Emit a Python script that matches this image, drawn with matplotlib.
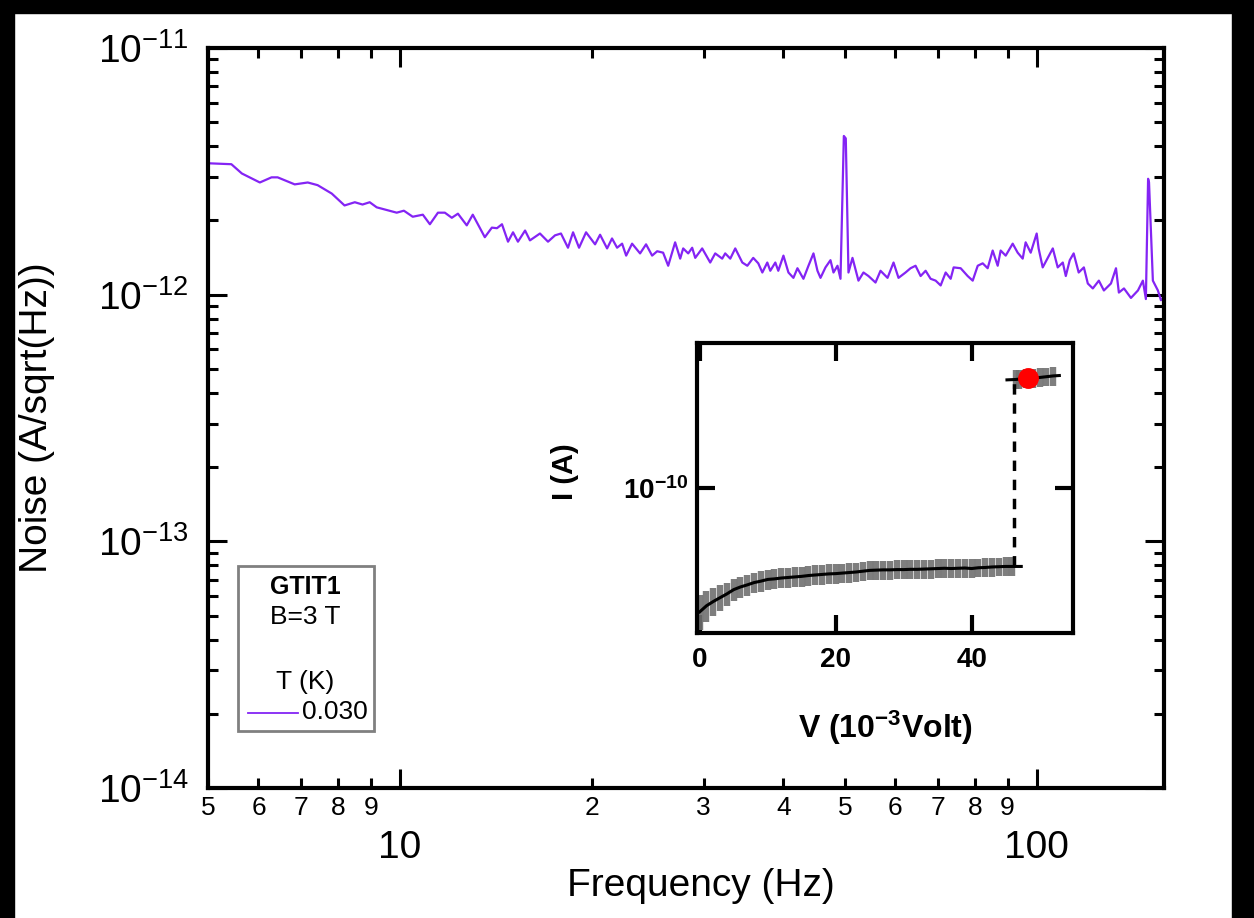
import matplotlib
matplotlib.use("Agg")
import numpy as np
import matplotlib.pyplot as plt
from matplotlib import font_manager
from matplotlib.ticker import LogLocator, NullLocator, NullFormatter, FixedLocator, FixedFormatter
from matplotlib.patches import Rectangle
from matplotlib.lines import Line2D

# noise spectrum: frequency (Hz) and noise (1e-12 A/sqrt(Hz))
freq = [5.0, 5.44, 5.65, 6.03, 6.29, 6.43, 6.84, 7.17, 7.43, 7.82, 8.19, 8.50, 8.74, 8.97, 9.20,
        9.89, 10.15, 10.48, 10.87, 11.15, 11.48, 11.77, 12.07, 12.34, 12.74, 13.02, 13.60, 13.95,
        14.21, 14.47, 14.79, 15.06, 15.33, 15.73, 16.01, 16.60, 17.09, 17.53, 17.91, 18.37, 18.71,
        19.12, 19.61, 20.26, 20.63, 21.16, 21.54, 21.94, 22.34, 22.67, 23.16, 23.84, 24.36, 24.90,
        25.36, 25.91, 26.39, 27.06, 27.56, 27.86, 28.37, 28.78, 29.10, 29.84, 30.72, 31.28, 32.08,
        32.43, 33.03, 33.63, 34.50, 35.13, 35.89, 36.55, 37.09, 37.76, 38.17, 38.87, 39.29, 40.03,
        40.76, 41.50, 42.11, 43.03, 43.82, 44.62, 45.27, 45.77, 46.60, 47.45, 47.97, 48.67, 49.20,
        49.80, 50.15, 50.64, 51.38, 52.50, 53.46, 54.44, 55.84, 56.86, 58.32, 59.60, 60.68, 62.24,
        63.38, 64.54, 65.73, 66.93, 68.15, 69.40, 70.67, 71.96, 73.27, 74.07, 75.97, 77.92, 79.35,
        80.80, 82.27, 83.76, 85.29, 86.85, 87.79, 89.40, 91.69, 93.36, 95.07, 96.09, 97.86, 100.0,
        100.7, 102.2, 104.1, 106.0, 107.9, 109.9, 111.1, 112.7, 114.3, 116.4, 118.6, 120.3, 122.5,
        125.2, 127.5, 130.8, 133.2, 134.6, 137.1, 140.6, 144.2, 146.8, 148.4, 149.6, 150.1, 152.2,
        155.0, 156.7, 157.8]
noise = [3.41, 3.38, 3.10, 2.85, 2.99, 2.99, 2.80, 2.85, 2.78, 2.57, 2.30, 2.37, 2.32, 2.37, 2.26,
         2.15, 2.19, 2.07, 2.11, 1.93, 2.15, 2.15, 2.05, 2.13, 1.91, 2.11, 1.71, 1.87,
         1.86, 1.93, 1.64, 1.79, 1.64, 1.82, 1.66, 1.77, 1.64, 1.74, 1.77, 1.55, 1.79,
         1.55, 1.79, 1.60, 1.75, 1.54, 1.69, 1.55, 1.61, 1.44, 1.61, 1.47, 1.60, 1.44,
         1.50, 1.48, 1.31, 1.63, 1.40, 1.54, 1.47, 1.55, 1.41, 1.54, 1.35, 1.47, 1.40,
         1.47, 1.40, 1.54, 1.35, 1.31, 1.41, 1.34, 1.23, 1.35, 1.25, 1.35, 1.25, 1.44,
         1.23, 1.17, 1.28, 1.16, 1.31, 1.47, 1.25, 1.17, 1.29, 1.38, 1.23, 1.31, 1.16,
         4.40, 4.30, 1.23, 1.41, 1.14, 1.23, 1.19, 1.12, 1.25, 1.17, 1.35, 1.17, 1.23,
         1.28, 1.31, 1.19, 1.25, 1.16, 1.14, 1.09, 1.23, 1.16, 1.29, 1.28, 1.19, 1.14,
         1.31, 1.34, 1.28, 1.51, 1.31, 1.51, 1.44, 1.61, 1.48, 1.40, 1.63, 1.48, 1.77,
         1.54, 1.29, 1.41, 1.54, 1.29, 1.35, 1.19, 1.38, 1.47, 1.23, 1.29, 1.11, 1.06,
         1.14, 1.04, 1.11, 1.28, 1.02, 1.06, 0.97, 1.04, 1.14, 0.96, 2.95, 2.85, 1.14,
         1.04, 0.95, 0.97]

# inset I-V: voltage (1e-3 V), current (1e-11 A), error (1e-11 A)
volt_low = [0, 1, 2, 3, 4, 5, 6, 7, 8, 9, 10, 11, 12, 13, 14, 15, 16, 17, 18, 19, 20, 21, 22, 23,
            24, 25, 26, 27, 28, 29, 30, 31, 32, 33, 34, 35, 36, 37, 38, 39, 40, 41, 42, 43, 44,
            45, 46, 47.3]
curr_low = [4.57, 4.75, 4.88, 5.00, 5.12, 5.26, 5.35, 5.42, 5.50, 5.55, 5.61, 5.63, 5.66, 5.68,
            5.70, 5.72, 5.75, 5.77, 5.79, 5.81, 5.82, 5.84, 5.86, 5.88, 5.91, 5.94, 5.95, 5.96,
            5.96, 5.97, 5.97, 5.98, 5.98, 5.99, 6.00, 6.01, 6.02, 6.01, 6.02, 6.03, 6.01, 6.04,
            6.05, 6.07, 6.08, 6.09, 6.09, 6.09]
err_low = [0.50, 0.45, 0.42, 0.40, 0.38, 0.36, 0.36, 0.36, 0.36, 0.36, 0.36, 0.36, 0.36, 0.36,
           0.36, 0.36, 0.36, 0.36, 0.36, 0.36, 0.36, 0.36, 0.36, 0.36, 0.36, 0.36, 0.36, 0.36,
           0.36, 0.36, 0.36, 0.36, 0.36, 0.36, 0.36, 0.36, 0.36, 0.36, 0.36, 0.36, 0.36, 0.36,
           0.36, 0.36, 0.36, 0.36, 0.36, 0.0]
volt_high = [45.2, 46.5, 47, 48, 49, 50, 51, 52, 52.9]
curr_high = [19.8, 19.85, 19.9, 20.0, 20.05, 20.1, 20.2, 20.3, 20.35]
err_high = [0.0, 1.2, 1.2, 1.2, 1.2, 1.2, 1.2, 1.2, 0.0]
jump_v = [46.2, 46.2]
jump_i = [6.09, 19.8]
point_v = [48.3]
point_i = [20.0]

xmajor = [10, 100]
xminor = [5, 6, 7, 8, 9, 20, 30, 40, 50, 60, 70, 80, 90]
xminor_labels = ['5', '6', '7', '8', '9', '2', '3', '4', '5', '6', '7', '8', '9']

names = {f.name for f in font_manager.fontManager.ttflist}
narrow = 'Liberation Sans Narrow' if 'Liberation Sans Narrow' in names else 'Liberation Sans'
plt.rcParams['font.family'] = [narrow, 'DejaVu Sans']
plt.rcParams['mathtext.fontset'] = 'custom'
plt.rcParams['mathtext.rm'] = narrow
plt.rcParams['mathtext.it'] = narrow + ':italic'
plt.rcParams['mathtext.bf'] = narrow + ':bold'

fig = plt.figure(figsize=(12.54, 9.18), dpi=100)
ax = fig.add_axes([0.1659, 0.1416, 0.7624, 0.8061])

purple = '#8424F4'
ax.plot(freq, np.array(noise) * 1e-12, color=purple, lw=1.6)
ax.set_xscale('log')
ax.set_yscale('log')
ax.set_xlim(5, 158.5)
ax.set_ylim(1e-14, 1e-11)

for s in ax.spines.values():
    s.set_linewidth(3)

ax.xaxis.set_major_locator(FixedLocator(xmajor))
ax.xaxis.set_major_formatter(FixedFormatter([str(v) for v in xmajor]))
ax.xaxis.set_minor_locator(FixedLocator(xminor))
ax.xaxis.set_minor_formatter(FixedFormatter(xminor_labels))
ax.yaxis.set_major_locator(FixedLocator([1e-14, 1e-13, 1e-12, 1e-11]))
ax.yaxis.set_major_formatter(FixedFormatter(['$10^{-14}$', '$10^{-13}$', '$10^{-12}$', '$10^{-11}$']))
ax.yaxis.set_minor_locator(LogLocator(base=10, subs=range(2, 10)))
ax.yaxis.set_minor_formatter(NullFormatter())

ax.tick_params(which='both', direction='in', top=True, right=True, width=2.2)
ax.tick_params(which='major', length=14)
ax.tick_params(which='minor', length=7)
ax.tick_params(axis='x', which='major', labelsize=28, pad=30)
ax.tick_params(axis='x', which='minor', labelsize=19, pad=6)
ax.tick_params(axis='y', which='major', labelsize=28, pad=14)

ax.set_ylabel('Noise (A/sqrt(Hz))', fontsize=28, family=['Liberation Sans', 'DejaVu Sans'])
ax.yaxis.set_label_coords(-0.160, 0.5)
ax.set_xlabel('Frequency (Hz)', fontsize=28)
ax.xaxis.set_label_coords(0.515, -0.108)

# legend box
ax.add_patch(Rectangle((0.0314, 0.077), 0.1423, 0.223, transform=ax.transAxes,
                       fill=False, edgecolor='#808080', lw=2, zorder=5))
ax.text(0.1015, 0.272, 'GTIT1', transform=ax.transAxes, ha='center', va='center',
        fontsize=18, fontweight='bold')
ax.text(0.1015, 0.231, 'B=3 T', transform=ax.transAxes, ha='center', va='center', fontsize=19)
ax.text(0.1015, 0.143, 'T (K)', transform=ax.transAxes, ha='center', va='center', fontsize=19)
ax.add_line(Line2D([0.0418, 0.0941], [0.101, 0.101], transform=ax.transAxes, color=purple, lw=1.3))
ax.text(0.0983, 0.103, '0.030', transform=ax.transAxes, ha='left', va='center', fontsize=19)

# inset
ins = fig.add_axes([0.5558, 0.3105, 0.2998, 0.3159])
ins.set_yscale('log')
low_i = np.array(curr_low) * 1e-11
high_i = np.array(curr_high) * 1e-11
ins.errorbar(volt_low, low_i, yerr=np.array(err_low) * 1e-11, fmt='none', ecolor='#707070',
             elinewidth=4.6, alpha=0.9)
ins.errorbar(volt_high, high_i, yerr=np.array(err_high) * 1e-11, fmt='none', ecolor='#707070',
             elinewidth=4.6, alpha=0.9)
ins.plot(volt_low, low_i, color='black', lw=2.2)
ins.plot(volt_high, high_i, color='black', lw=2.2)
ins.plot(jump_v, np.array(jump_i) * 1e-11, color='black', lw=2.5, ls=(0, (3, 2.5)))
ins.plot(point_v, np.array(point_i) * 1e-11, 'o', color='red', ms=14, zorder=6)
ins.set_xlim(-0.4, 54.9)
ins.set_ylim(4.0e-11, 2.5e-10)
for s in ins.spines.values():
    s.set_linewidth(3)
ins.xaxis.set_major_locator(FixedLocator([0, 20, 40]))
ins.xaxis.set_minor_locator(NullLocator())
ins.yaxis.set_major_locator(FixedLocator([1e-10]))
ins.yaxis.set_major_formatter(FixedFormatter([r'$\mathbf{10^{-10}}$']))
ins.yaxis.set_minor_locator(NullLocator())
ins.tick_params(which='major', direction='in', top=True, right=True, length=13, width=3)
ins.tick_params(axis='x', labelsize=20, pad=10)
ins.tick_params(axis='y', labelsize=20, pad=6)
for lab in ins.get_xticklabels():
    lab.set_fontweight('bold')
ins.set_xlabel(r'V (10$^{\mathbf{-3}}$Volt)', fontsize=23, fontweight='bold')
ins.xaxis.set_label_coords(0.5, -0.26)
ins.set_ylabel('I (A)', fontsize=21, fontweight='bold', family=['Liberation Sans', 'DejaVu Sans'])
ins.yaxis.set_label_coords(-0.314, 0.555)

# black screenshot borders
fig.add_artist(Rectangle((0, 1 - 13 / 918), 1, 13 / 918, transform=fig.transFigure,
                         color='black', zorder=10))
fig.add_artist(Rectangle((0, 0), 14 / 1254, 1, transform=fig.transFigure, color='black', zorder=10))
fig.add_artist(Rectangle((1 - 22 / 1254, 0), 22 / 1254, 1, transform=fig.transFigure,
                         color='black', zorder=10))

fig.savefig('out.png', dpi=100)
